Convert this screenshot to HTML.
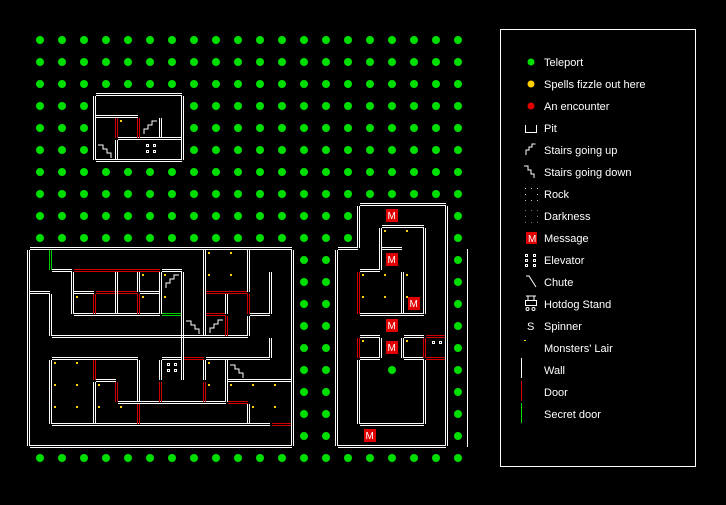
<!DOCTYPE html>
<html><head><meta charset="utf-8"><style>
html,body{margin:0;padding:0;background:#000;}
svg{display:block}
text{font-family:"Liberation Sans",sans-serif;font-size:11px;fill:#fff}
</style></head><body>
<svg id="s" width="726" height="505" viewBox="0 0 726 505" xmlns="http://www.w3.org/2000/svg">
<rect width="726" height="505" fill="#000"/>
<g id="dots"></g>
<g id="walls" stroke-width="1" shape-rendering="crispEdges"></g>
<g id="misc"></g>
<rect x="500.5" y="29.5" width="195" height="437" fill="none" stroke="#fff"/>
<g>
<circle cx="531" cy="62" r="3.5" fill="#00e000"/><text x="544" y="66">Teleport</text>
<circle cx="531" cy="84" r="3.5" fill="#ffd000"/><text x="544" y="88">Spells fizzle out here</text>
<circle cx="531" cy="106" r="3.5" fill="#e00000"/><text x="544" y="110">An encounter</text>
<path d="M525.5 125v7.5h11v-7.5" fill="none" stroke="#fff"/><text x="544" y="132">Pit</text>
<path d="M526 155v-5h3v-3h3v-3h3.5" fill="none" stroke="#fff"/><text x="544" y="154">Stairs going up</text>
<path d="M524 166h4v4h3v4h3v4" fill="none" stroke="#fff"/><text x="544" y="176">Stairs going down</text>
<g fill="#ccc"><rect x="525" y="188" width="1" height="1"/><rect x="531" y="188" width="1" height="1"/><rect x="537" y="188" width="1" height="1"/><rect x="525" y="194" width="1" height="1"/><rect x="537" y="194" width="1" height="1"/><rect x="525" y="200" width="1" height="1"/><rect x="531" y="200" width="1" height="1"/><rect x="537" y="200" width="1" height="1"/></g>
<text x="544" y="198">Rock</text>
<g fill="#777"><rect x="525" y="210" width="1" height="1"/><rect x="531" y="210" width="1" height="1"/><rect x="537" y="210" width="1" height="1"/><rect x="525" y="216" width="1" height="1"/><rect x="537" y="216" width="1" height="1"/><rect x="525" y="222" width="1" height="1"/><rect x="531" y="222" width="1" height="1"/><rect x="537" y="222" width="1" height="1"/></g>
<text x="544" y="220">Darkness</text>
<rect x="526" y="232" width="11" height="12" fill="#e00000"/><text x="528" y="242" style="font-size:10px">M</text><text x="544" y="242">Message</text>
<g fill="none" stroke="#fff"><rect x="525.5" y="254.5" width="2" height="2"/><rect x="533.5" y="254.5" width="2" height="2"/><rect x="525.5" y="259.5" width="2" height="2"/><rect x="533.5" y="259.5" width="2" height="2"/><rect x="525.5" y="264.5" width="2" height="2"/><rect x="533.5" y="264.5" width="2" height="2"/></g>
<text x="544" y="264">Elevator</text>
<path d="M526 276h3l7 11" fill="none" stroke="#fff"/><text x="544" y="286">Chute</text>
<path d="M526 296h10M528 296v4M534 296v4M525.5 300.5h11v5h-11z" fill="none" stroke="#fff"/><circle cx="527.5" cy="309" r="1.5" fill="none" stroke="#fff"/><circle cx="533.5" cy="309" r="1.5" fill="none" stroke="#fff"/>
<text x="544" y="308">Hotdog Stand</text>
<text x="527" y="330">S</text><text x="544" y="330">Spinner</text>
<rect x="524" y="340" width="2" height="1" fill="#ffd000"/><text x="544" y="352">Monsters' Lair</text>
<rect x="521" y="358" width="1" height="20" fill="#fff"/><text x="544" y="374">Wall</text>
<rect x="521" y="381" width="1" height="20" fill="#e00000"/><text x="544" y="396">Door</text>
<rect x="521" y="403" width="1" height="20" fill="#00e000"/><text x="544" y="418">Secret door</text>
</g>
</svg>
<script>
var NS="http://www.w3.org/2000/svg";
function el(p,t,a){var e=document.createElementNS(NS,t);for(var k in a)e.setAttribute(k,a[k]);p.appendChild(e);return e;}
var D=document.getElementById("dots"),W=document.getElementById("walls"),M=document.getElementById("misc");
function gx(c){return 29+22*c}function gy(r){return 29+22*r}
var COL={w:"#fff",r:"#d00000",g:"#00d000"};
function H(r,c0,c1,t){var y=gy(r),x0=gx(c0)+1,x1=gx(c1+1)-1;[-2,0].forEach(function(d){el(W,"line",{x1:x0,x2:x1,y1:y+d+.5,y2:y+d+.5,stroke:COL[t||"w"]});});}
function V(c,r0,r1,t){var x=gx(c),y0=gy(r0)+1,y1=gy(r1+1)-1;[-2,0].forEach(function(d){el(W,"line",{x1:x+d+.5,x2:x+d+.5,y1:y0,y2:y1,stroke:COL[t||"w"]});});}
function excluded(c,r){
 if(r>=3&&r<=5&&c>=3&&c<=6)return true;
 if(r>=10&&r<=18&&c<=11)return true;
 if((r==8||r==9)&&c>=15&&c<=18)return true;
 if(r>=10&&r<=18&&c>=14&&c<=18)return true;
 return false;}
for(var r=0;r<20;r++)for(var c=0;c<20;c++)if(!excluded(c,r))el(D,"circle",{cx:40+22*c,cy:40+22*r,r:4,fill:"#00e000"});
el(D,"circle",{cx:392,cy:370,r:4,fill:"#00e000"});
H(3,3,6);H(4,3,4);H(5,4,6);H(6,3,6);
V(3,3,5);V(4,4,4,"r");V(4,5,5);V(5,4,4,"r");V(6,4,4);V(7,3,5);
function h(l,c0,c1,t){H(l+10,c0,c1,t)}function v(c,l0,l1,t){V(c,l0+10,l1+10,t)}
h(0,0,11);h(1,1,1);h(1,2,5,"r");h(1,6,6);
h(2,0,0);h(2,2,2);h(2,3,4,"r");h(2,5,5);h(2,8,9,"r");
h(3,2,5);h(3,6,6,"g");h(3,8,8,"r");h(3,10,10);
h(4,1,9);
h(5,1,4);h(5,6,6);h(5,7,7,"r");h(5,8,10);
h(6,3,3);h(6,9,11);
h(7,4,8);h(7,9,9,"r");
h(8,1,10);h(8,11,11,"r");
h(9,0,11);
v(0,0,8);v(1,0,0,"g");v(1,2,3);v(1,5,7);
v(2,1,2);v(3,2,2,"r");v(3,5,5,"r");v(3,6,7);
v(4,1,2);v(4,6,6,"r");v(5,1,1);v(5,2,2,"r");v(5,5,6);v(5,7,7,"r");
v(6,1,2);v(6,5,5);v(6,6,6,"r");v(7,1,5);
v(8,0,3);v(8,5,5);v(8,6,6,"r");
v(9,2,2);v(9,3,3,"r");v(9,5,6);
v(10,0,1);v(10,2,2,"r");v(10,3,3);v(10,7,7);
v(11,1,2);v(11,4,4);v(12,0,8);
H(8,15,18);H(9,16,17);H(10,14,14);H(10,16,16);H(11,15,15);H(13,15,17);
H(14,15,15);H(14,17,17);H(14,18,18,"r");H(15,15,15);H(15,17,17);H(15,18,18,"r");H(18,15,17);H(19,14,18);
V(14,10,18);V(15,8,9);V(15,11,12,"r");V(15,14,14,"r");V(15,15,17);
V(16,9,10);V(16,14,14);V(17,11,12);V(17,14,14);V(18,9,12);V(18,14,14,"r");V(18,15,17);V(19,8,18);
el(W,"line",{x1:467.5,x2:467.5,y1:249,y2:447,stroke:"#fff"});
[[209,253],[231,253],[209,275],[231,275],[143,275],[165,275],[77,297],[143,297],[165,297],[55,363],[77,363],[209,363],[55,385],[77,385],[99,385],[209,385],[231,385],[253,385],[275,385],[55,407],[77,407],[99,407],[121,407],[253,407],[275,407],
[385,231],[407,231],[363,275],[385,275],[407,275],[363,297],[385,297],[407,297],[363,341],[407,341],[121,121]].forEach(function(p){el(M,"rect",{x:p[0]-1,y:p[1]-1,width:2,height:2,fill:"#ffd000"});});
function up(x,y){el(M,"path",{d:"M"+x+" "+(y+12)+"v-5h4v-4h4v-4h5",fill:"none",stroke:"#fff"});}
function dn(x,y){el(M,"path",{d:"M"+x+" "+y+"h5v4h4v4h4v5",fill:"none",stroke:"#fff"});}
up(166,276);dn(186,321);up(210,321);dn(230,365);up(144,122);dn(98,145);
function elev(x,y){[[0,0],[7,0],[0,6],[7,6]].forEach(function(o){el(M,"rect",{x:x+o[0]+.5,y:y+o[1]+.5,width:2,height:2,fill:"none",stroke:"#fff"});});}
elev(167,363);elev(146,144);
[[432,341],[439,341]].forEach(function(p){el(M,"rect",{x:p[0]+.5,y:p[1]+.5,width:2,height:2,fill:"none",stroke:"#fff"});});
[[392,215],[392,259],[414,303],[392,325],[392,347],[370,435]].forEach(function(p){el(M,"rect",{x:p[0]-6,y:p[1]-6,width:12,height:13,fill:"#e00000"});var t=el(M,"text",{x:p[0]-4.5,y:p[1]+4,style:"font-size:10px"});t.textContent="M";});
</script>
</body></html>
